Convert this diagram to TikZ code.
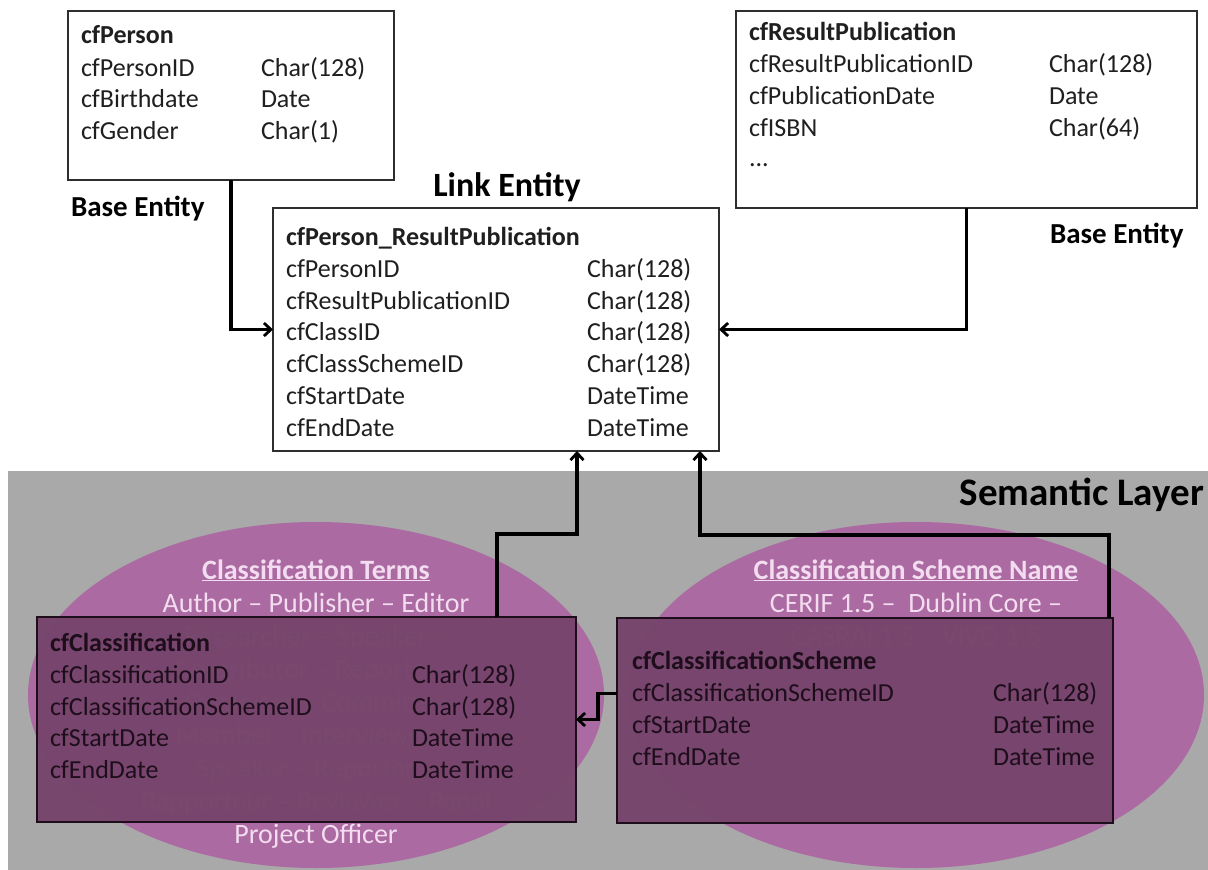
\documentclass[tikz,border=0pt]{standalone}
\usepackage{fontspec}
\setmainfont{Carlito}
\usetikzlibrary{arrows.meta}
\definecolor{bandgray}{HTML}{A9A9A9}
\definecolor{ellpink}{HTML}{AB6AA1}
\definecolor{boxpurple}{HTML}{76456C}
\definecolor{elltext}{HTML}{F3DCF0}
\definecolor{boxtext}{HTML}{1E0E1C}
\definecolor{topline}{HTML}{2E2E2E}
\begin{document}
\begin{tikzpicture}[x=1pt,y=-1pt,
  every node/.style={inner sep=0pt, outer sep=0pt},
  topbox/.style={draw=topline, line width=1.6pt, fill=white, rectangle},
  semabox/.style={draw=boxtext, line width=2pt, fill=boxpurple, fill opacity=0.975, draw opacity=1, rectangle},
  row/.style={anchor=base west, font=\fontsize{26}{31}\selectfont, text=black!88},
  hrow/.style={row, font=\fontsize{26}{31}\selectfont\bfseries},
  srow/.style={row, text=boxtext},
  shrow/.style={hrow, text=boxtext},
  etxt/.style={anchor=base, font=\fontsize{28}{33}\selectfont, text=elltext},
  ehead/.style={etxt, font=\fontsize{28}{33}\selectfont\bfseries},
  label/.style={anchor=base west, font=\fontsize{29}{34}\selectfont\bfseries, text=black},
  conn/.style={draw=black, line width=3.2pt, -{Straight Barb[length=7pt,width=13pt,line width=2.8pt]}}
]
\useasboundingbox (0,0) rectangle (1208,870);

% semantic layer band
\fill[bandgray] (8,471) rectangle (1208,870);
\node[anchor=base east, font=\fontsize{39}{45}\selectfont\bfseries] (semlayer) at (1204,505) {Semantic Layer};

% ellipses
\fill[ellpink] (316,695) ellipse [x radius=288, y radius=173];
\fill[ellpink] (916,695) ellipse [x radius=288, y radius=173];

% left ellipse text
\node[ehead] (t0) at (316,579) {\underline{Classification Terms}};
\node[etxt] (t1) at (316,612) {Author – Publisher – Editor};
\node[etxt] (t2) at (316,645) {Researcher – Speaker –};
\node[etxt] (t3) at (316,678) {Contributor – Reporter –};
\node[etxt] (t4) at (316,711) {Organiser – Committee};
\node[etxt] (t5) at (316,744) {Member – Interviewee –};
\node[etxt] (t6) at (316,777) {Speaker – Reporter –};
\node[etxt] (t7) at (316,810) {Rapporteur – Reviewer – Panel};
\node[etxt] (t8) at (316,843) {Project Officer};

% right ellipse text
\node[ehead] (s0) at (916,579) {\underline{Classification Scheme Name}};
\node[etxt] (s1) at (916,612) {CERIF 1.5 –\ \ Dublin Core –};
\node[etxt] (s2) at (916,645) {CASRAI 1.5 – VIVO 1.5};

% top entity boxes
\node[topbox, minimum width=326pt, minimum height=169pt] (person) at (231,95.5) {};
\node[hrow] (p0) at (81,43) {cfPerson};
\node[row] (p1) at (81,76) {cfPersonID};
\node[row] (p1t) at (261,76) {Char(128)};
\node[row] (p2) at (81,107) {cfBirthdate};
\node[row] (p2t) at (261,107) {Date};
\node[row] (p3) at (81,139) {cfGender};
\node[row] (p3t) at (261,139) {Char(1)};

\node[topbox, minimum width=461pt, minimum height=197pt] (respub) at (966.5,109.5) {};
\node[hrow] (r0) at (749,40) {cfResultPublication};
\node[row] (r1) at (749,72) {cfResultPublicationID};
\node[row] (r1t) at (1049,72) {Char(128)};
\node[row] (r2) at (749,104) {cfPublicationDate};
\node[row] (r2t) at (1049,104) {Date};
\node[row] (r3) at (749,136) {cfISBN};
\node[row] (r3t) at (1049,136) {Char(64)};
\node[row] (r4) at (749,166) {...};

\node[topbox, minimum width=446pt, minimum height=243pt] (link) at (496,329.5) {};
\node[hrow] (l0) at (286,245) {cfPerson\_ResultPublication};
\node[row] (l1) at (286,277) {cfPersonID};
\node[row] (l1t) at (587,277) {Char(128)};
\node[row] (l2) at (286,309) {cfResultPublicationID};
\node[row] (l2t) at (587,309) {Char(128)};
\node[row] (l3) at (286,340) {cfClassID};
\node[row] (l3t) at (587,340) {Char(128)};
\node[row] (l4) at (286,372) {cfClassSchemeID};
\node[row] (l4t) at (587,372) {Char(128)};
\node[row] (l5) at (286,404) {cfStartDate};
\node[row] (l5t) at (587,404) {DateTime};
\node[row] (l6) at (286,436) {cfEndDate};
\node[row] (l6t) at (587,436) {DateTime};

% labels
\node[label] (base1) at (71,216) {Base Entity};
\node[label] (base2) at (1050,243) {Base Entity};
\node[anchor=base, font=\fontsize{34}{40}\selectfont\bfseries] (linklabel) at (507,196) {Link Entity};

% semantic boxes
\node[semabox, minimum width=539pt, minimum height=205pt] (cls) at (306.5,719.5) {};
\node[shrow] (c0) at (50,651) {cfClassification};
\node[srow] (c1) at (50,683) {cfClassificationID};
\node[srow] (c1t) at (412,683) {Char(128)};
\node[srow] (c2) at (50,715) {cfClassificationSchemeID};
\node[srow] (c2t) at (412,715) {Char(128)};
\node[srow] (c3) at (50,746) {cfStartDate};
\node[srow] (c3t) at (412,746) {DateTime};
\node[srow] (c4) at (50,778) {cfEndDate};
\node[srow] (c4t) at (412,778) {DateTime};

\node[semabox, minimum width=496pt, minimum height=205pt] (sch) at (865,720.5) {};
\node[shrow] (h0) at (632,669) {cfClassificationScheme};
\node[srow] (h1) at (632,701) {cfClassificationSchemeID};
\node[srow] (h1t) at (993,701) {Char(128)};
\node[srow] (h2) at (632,733) {cfStartDate};
\node[srow] (h2t) at (993,733) {DateTime};
\node[srow] (h3) at (632,765) {cfEndDate};
\node[srow] (h3t) at (993,765) {DateTime};

% connector anchor coordinates
\path (cls.north west) ++(460,0) coordinate (clsout);
\path (sch.north west) ++(492,0) coordinate (schout);
\path (link.south west) ++(304,0) coordinate (linkin1);
\path (link.south west) ++(427,0) coordinate (linkin2);
\path (sch.west) ++(0,-27) coordinate (schleft);

% connectors
\draw[conn] (person.south) |- (link.west);
\draw[conn] (respub.south) |- (link.east);
\draw[conn] (clsout) -- ++(0,-83) -| (linkin1);
\draw[conn] (schout) -- ++(0,-83) -| (linkin2);
\draw[conn] (schleft) -- ++(-19,0) |- (cls.east);
\end{tikzpicture}
\end{document}
